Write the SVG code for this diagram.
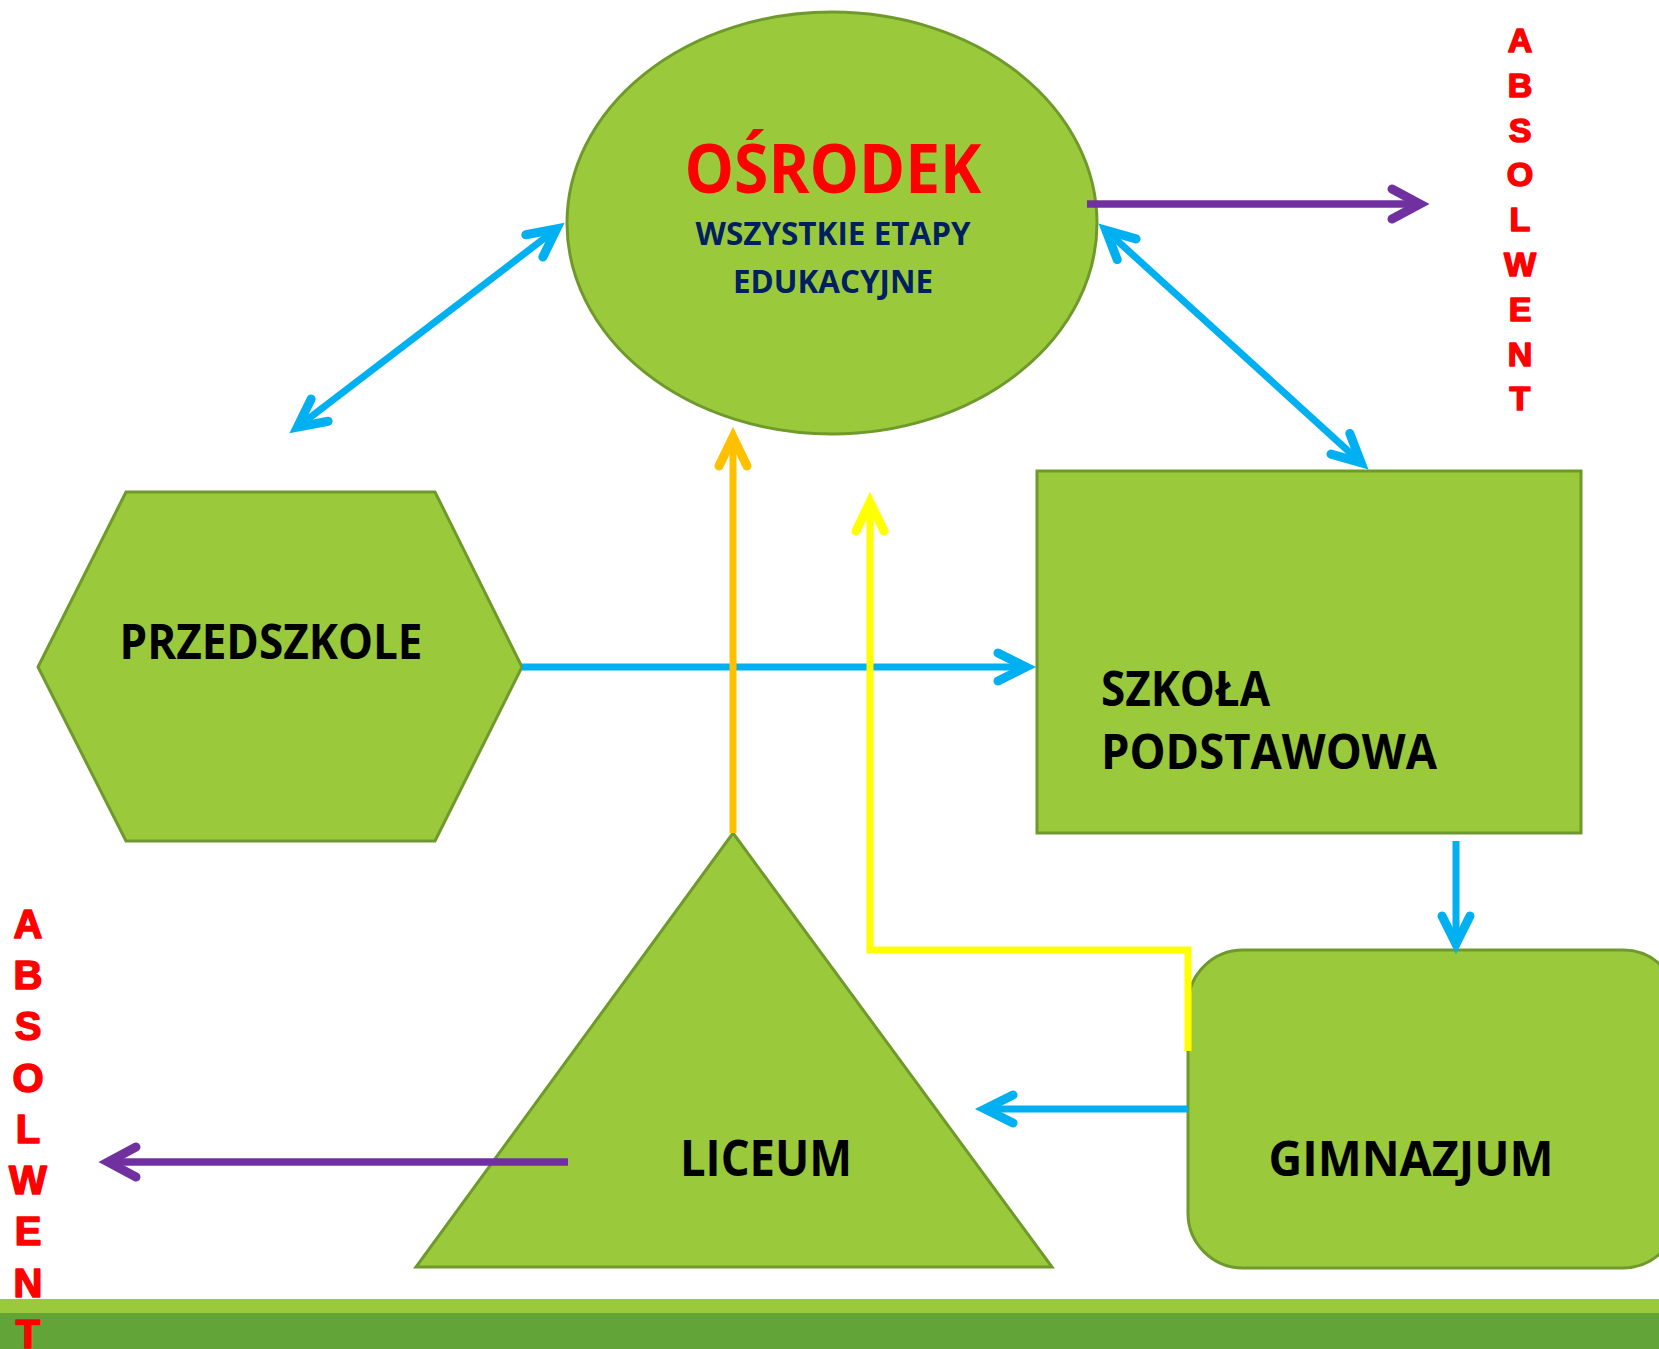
<svg xmlns="http://www.w3.org/2000/svg" width="1659" height="1349" viewBox="0 0 1659 1349">
<defs>
<style>
.node{fill:#9ACA3C;stroke:#6F9A2B;stroke-width:3}
.lbl{font-family:"Open Sans","Liberation Sans",sans-serif;font-weight:bold;fill:#000}
.abs{font-family:"Liberation Sans",Arial,sans-serif;font-weight:bold;fill:#FF0000;stroke:#FF0000;stroke-width:1.6;stroke-linejoin:round;text-anchor:middle}
.c{fill:none;stroke-width:7;stroke-linejoin:miter}
.blue{stroke:#00B0F0}
.purple{stroke:#7030A0;stroke-width:7.5}
.orange{stroke:#FFC000}
.yellow{stroke:#FFFF00}
</style>
<marker id="mb" markerUnits="userSpaceOnUse" viewBox="-40 -20 46 40" markerWidth="46" markerHeight="40" refX="0" refY="0" orient="auto-start-reverse" overflow="visible"><path d="M-29,-14 L-1,0 L-29,14" fill="none" stroke="#00B0F0" stroke-width="9" stroke-linecap="round"/></marker>
<marker id="mp" markerUnits="userSpaceOnUse" viewBox="-40 -20 46 40" markerWidth="46" markerHeight="40" refX="0" refY="0" orient="auto-start-reverse" overflow="visible"><path d="M-29,-15 L-1,0 L-29,15" fill="none" stroke="#7030A0" stroke-width="9" stroke-linecap="round"/></marker>
<marker id="mo" markerUnits="userSpaceOnUse" viewBox="-40 -20 46 40" markerWidth="46" markerHeight="40" refX="0" refY="0" orient="auto-start-reverse" overflow="visible"><path d="M-30,-14 L-1,0 L-30,14" fill="none" stroke="#FFC000" stroke-width="9" stroke-linecap="round"/></marker>
<marker id="my" markerUnits="userSpaceOnUse" viewBox="-40 -20 46 40" markerWidth="46" markerHeight="40" refX="0" refY="0" orient="auto-start-reverse" overflow="visible"><path d="M-30,-14 L-1,0 L-30,14" fill="none" stroke="#FFFF00" stroke-width="9" stroke-linecap="round"/></marker>
</defs>
<rect x="0" y="0" width="1659" height="1349" fill="#FFFFFF"/>

<g id="band">
<rect x="0" y="1299" width="1659" height="14" fill="#9ACA3C"/>
<rect x="0" y="1313" width="1659" height="36" fill="#62A437"/>
</g>

<g id="osrodek">
<ellipse class="node" cx="832" cy="223" rx="265" ry="211"/>
<text x="833" y="193" font-family="'Open Sans','Liberation Sans',sans-serif" font-weight="bold" font-size="68" fill="#FF0000" text-anchor="middle" textLength="297" lengthAdjust="spacingAndGlyphs">OŚRODEK</text>
<text x="833" y="245" font-family="'Open Sans','Liberation Sans',sans-serif" font-weight="bold" font-size="32" fill="#002060" text-anchor="middle" textLength="275" lengthAdjust="spacingAndGlyphs">WSZYSTKIE ETAPY</text>
<text x="833" y="293" font-family="'Open Sans','Liberation Sans',sans-serif" font-weight="bold" font-size="32" fill="#002060" text-anchor="middle" textLength="200" lengthAdjust="spacingAndGlyphs">EDUKACYJNE</text>
</g>

<g id="przedszkole">
<polygon class="node" points="38,667 126,492 435,492 522,667 435,841 126,841"/>
<text class="lbl" x="271" y="659" font-size="49" text-anchor="middle" textLength="303" lengthAdjust="spacingAndGlyphs">PRZEDSZKOLE</text>
</g>

<g id="szkola-podstawowa">
<rect class="node" x="1037" y="471" width="544" height="362"/>
<text class="lbl" x="1101" y="706" font-size="49" textLength="169" lengthAdjust="spacingAndGlyphs">SZKOŁA</text>
<text class="lbl" x="1101" y="769" font-size="49" textLength="336" lengthAdjust="spacingAndGlyphs">PODSTAWOWA</text>
</g>

<g id="gimnazjum">
<rect class="node" x="1188" y="950" width="490" height="318" rx="55" ry="55"/>
<text class="lbl" x="1411" y="1176" font-size="49" text-anchor="middle" textLength="285" lengthAdjust="spacingAndGlyphs">GIMNAZJUM</text>
</g>

<g id="liceum">
<polygon class="node" points="733,833 1052,1267 416,1267"/>
<text class="lbl" x="766" y="1176" font-size="50" text-anchor="middle" textLength="172" lengthAdjust="spacingAndGlyphs">LICEUM</text>
</g>

<g id="absolwent-right">
<text class="abs" x="1520" y="52" font-size="34">A</text>
<text class="abs" x="1520" y="97" font-size="34">B</text>
<text class="abs" x="1520" y="142" font-size="34">S</text>
<text class="abs" x="1520" y="186" font-size="34">O</text>
<text class="abs" x="1520" y="231" font-size="34">L</text>
<text class="abs" x="1520" y="276" font-size="34">W</text>
<text class="abs" x="1520" y="321" font-size="34">E</text>
<text class="abs" x="1520" y="366" font-size="34">N</text>
<text class="abs" x="1520" y="410" font-size="34">T</text>
</g>

<g id="absolwent-left">
<text class="abs" x="28" y="938" font-size="40">A</text>
<text class="abs" x="28" y="989" font-size="40">B</text>
<text class="abs" x="28" y="1040" font-size="40">S</text>
<text class="abs" x="28" y="1092" font-size="40">O</text>
<text class="abs" x="28" y="1143" font-size="40">L</text>
<text class="abs" x="28" y="1194" font-size="40">W</text>
<text class="abs" x="28" y="1245" font-size="40">E</text>
<text class="abs" x="28" y="1297" font-size="40">N</text>
<text class="abs" x="28" y="1348" font-size="40">T</text>
</g>

<g id="connectors">
<path class="c blue" d="M557.4,228.3 L296.6,427.7" marker-start="url(#mb)" marker-end="url(#mb)"/>
<path class="c blue" d="M1105.2,229.7 L1361.8,463.3" marker-start="url(#mb)" marker-end="url(#mb)"/>
<path class="c blue" d="M522,667 L1027,667" marker-end="url(#mb)"/>
<path class="c blue" d="M1456,841 L1456,945" marker-end="url(#mb)"/>
<path class="c blue" d="M1188,1109 L984,1109" marker-end="url(#mb)"/>
<path class="c orange" d="M733,833 L733,436" marker-end="url(#mo)"/>
<path class="c yellow" d="M1188,1051 L1188,950 L870,950 L870,501" marker-end="url(#my)"/>
<path class="c purple" d="M1087,204 L1421,204" marker-end="url(#mp)"/>
<path class="c purple" d="M568,1162 L107,1162" marker-end="url(#mp)"/>
</g>
</svg>
